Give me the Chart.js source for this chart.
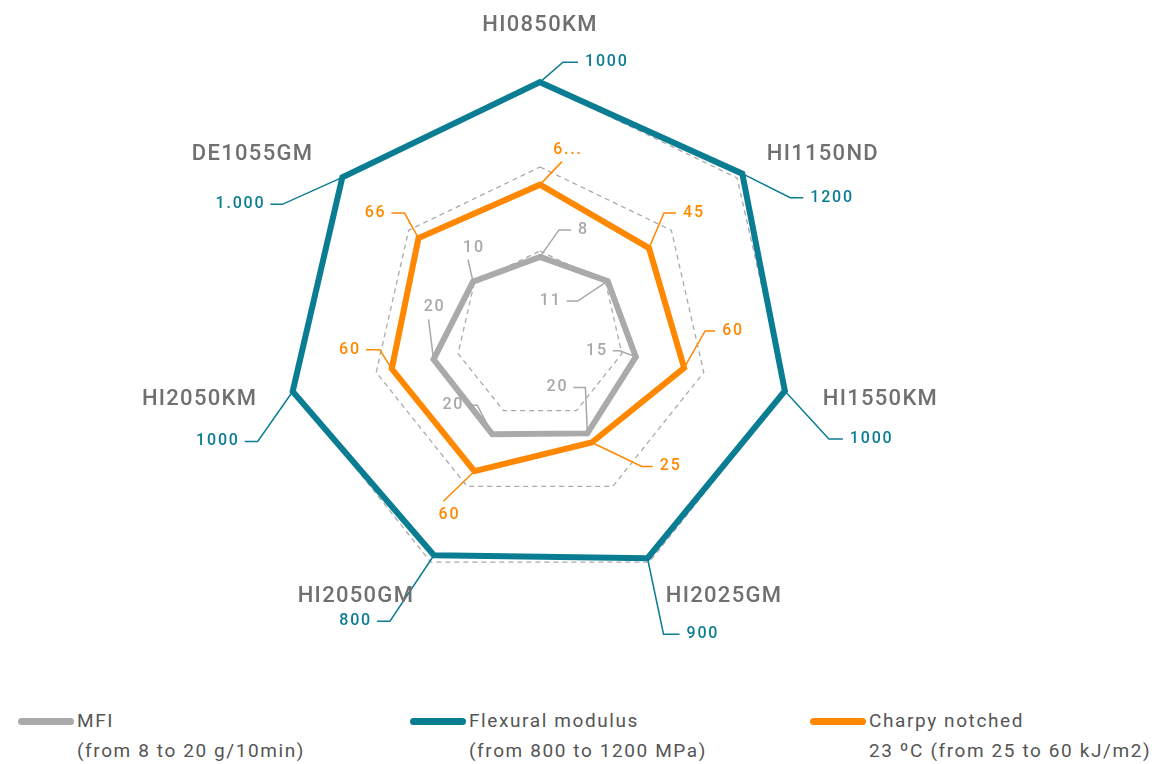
<!DOCTYPE html>
<html>
<head>
<meta charset="utf-8">
<script src="https://cdn.jsdelivr.net/npm/chart.js@4.4.1/dist/chart.umd.min.js"></script>
<style>
  body { margin: 0; background: #fff; font-family: Roboto, sans-serif; }
  #wrap { position: relative; width: 1155px; height: 764px; }
  #legend { position: absolute; left: 0; top: 706px; width: 1155px; height: 58px; }
  .item { position: absolute; top: 0; color: #555; font-size: 19px; line-height: 30px; letter-spacing: 1.6px; }
  .item .swatch { position: absolute; left: 0; top: 12px; width: 56px; height: 7px; border-radius: 4px; }
  .item .txt { position: absolute; left: 59px; top: 0; white-space: nowrap; }
</style>
</head>
<body>
<div id="wrap">
  <canvas id="chart" width="1155" height="690"></canvas>
  <div id="legend"></div>
</div>
<script>
// grades on the radar axes
const grades = ['HI0850KM', 'HI1150ND', 'HI1550KM', 'HI2025GM', 'HI2050GM', 'HI2050KM', 'DE1055GM'];

// plotted positions (normalised, 0..3) and the printed values
const mfiPos = [0.93, 1.03, 1.17, 1.30, 1.31, 1.30, 1.02];
const mfiLabels = ['8', '11', '15', '20', '20', '20', '10'];

const flexPos = [3.01, 3.08, 2.99, 2.95, 2.91, 3.02, 3.01];
const flexLabels = ['1000', '1200', '1000', '900', '800', '1000', '1.000'];

const charpyPos = [1.79, 1.66, 1.76, 1.42, 1.80, 1.81, 1.85];
const charpyLabels = ['6...', '45', '60', '25', '60', '60', '66'];

const seriesNames = ['MFI', 'Flexural modulus', 'Charpy notched'];
const seriesRanges = ['(from 8 to 20 g/10min)', '(from 800 to 1200 MPa)', '23 ºC (from 25 to 60 kJ/m2)'];

const GRAY = '#aaaaaa', TEAL = '#0b7d93', ORANGE = '#ff8800';

// leader line offsets from each point: [dx, dy, horizontal tail]
const mfiLeaders = [[19, -27, 12], [-30, 20, -11], [-16, -6, -7], [-2, -46, -12], [-15, -29, -8], [-5, -40, 0], [-5, -22, 0]];
const flexLeaders = [[23, -20, 15], [48, 24, 13], [44, 48, 14], [16, 76, 16], [-44, 66, -13], [-35, 50, -13], [-60, 27, -12]];
const charpyLeaders = [[22, -23, 0], [15, -35, 12], [21, -37, 10], [50, 24, 11], [-31, 30, 0], [-12, -19, -14], [-14, -25, -13]];

const leaderPlugin = {
  id: 'leaders',
  afterDatasetsDraw(chart) {
    const ctx = chart.ctx;
    chart.data.datasets.forEach((ds, di) => {
      const meta = chart.getDatasetMeta(di);
      meta.data.forEach((pt, i) => {
        const [dx, dy, h] = ds.leaders[i];
        const x1 = pt.x + dx, y1 = pt.y + dy;
        ctx.save();
        ctx.strokeStyle = ds.labelColor;
        ctx.lineWidth = 1.5;
        ctx.beginPath();
        ctx.moveTo(pt.x, pt.y);
        ctx.lineTo(x1, y1);
        if (h !== 0) ctx.lineTo(x1 + h, y1);
        ctx.stroke();
        ctx.fillStyle = ds.labelColor;
        ctx.font = '500 16px Roboto';
        ctx.letterSpacing = '1.8px';
        if (h > 0) {
          ctx.textAlign = 'left'; ctx.textBaseline = 'middle';
          ctx.fillText(ds.valueLabels[i], x1 + h + 7, y1);
        } else if (h < 0) {
          ctx.textAlign = 'right'; ctx.textBaseline = 'middle';
          ctx.fillText(ds.valueLabels[i], x1 + h - 5, y1);
        } else {
          ctx.textAlign = 'center';
          ctx.textBaseline = dy < 0 ? 'bottom' : 'top';
          ctx.fillText(ds.valueLabels[i], x1 + 6, dy < 0 ? y1 - 4 : y1 + 6);
        }
        ctx.restore();
      });
    });
  }
};

const gradeLabelPlugin = {
  id: 'gradeLabels',
  afterDraw(chart) {
    const scale = chart.scales.r;
    const ctx = chart.ctx;
    ctx.save();
    ctx.fillStyle = '#707070';
    ctx.font = '500 22px Roboto';
    ctx.letterSpacing = '1.3px';
    ctx.textBaseline = 'middle';
    grades.forEach((g, i) => {
      const extra = i === 0 ? 58 : 38;
      const p = scale.getPointPosition(i, scale.drawingArea + extra);
      if (Math.abs(p.x - scale.xCenter) < 2) ctx.textAlign = 'center';
      else ctx.textAlign = p.x > scale.xCenter ? 'left' : 'right';
      ctx.fillText(g, p.x, p.y);
    });
    ctx.restore();
  }
};

function makeSet(name, pos, labels, leaders, color, labelColor) {
  return {
    label: name,
    data: pos,
    valueLabels: labels,
    leaders: leaders,
    labelColor: labelColor,
    borderColor: color,
    backgroundColor: 'rgba(0,0,0,0)',
    borderWidth: 6,
    borderJoinStyle: 'miter',
    fill: false,
    pointRadius: 0,
    pointHoverRadius: 0
  };
}

new Chart(document.getElementById('chart').getContext('2d'), {
  type: 'radar',
  data: {
    labels: grades,
    datasets: [
      makeSet(seriesNames[0], mfiPos, mfiLabels, mfiLeaders, GRAY, '#a8a8a8'),
      makeSet(seriesNames[1], flexPos, flexLabels, flexLeaders, TEAL, TEAL),
      makeSet(seriesNames[2], charpyPos, charpyLabels, charpyLeaders, ORANGE, ORANGE)
    ]
  },
  options: {
    responsive: false,
    animation: false,
    layout: { padding: { top: 83, bottom: 103, left: 0, right: 75 } },
    plugins: {
      legend: { display: false },
      tooltip: { enabled: false }
    },
    scales: {
      r: {
        min: 0,
        max: 3,
        ticks: { display: false, stepSize: 1 },
        pointLabels: { display: false },
        angleLines: { display: false },
        grid: { color: '#aaaaaa', lineWidth: 1.3 },
        border: { dash: [5, 4] }
      }
    }
  },
  plugins: [leaderPlugin, gradeLabelPlugin]
});

// legend below the chart
const legendColors = [GRAY, TEAL, ORANGE];
const legendLeft = [18, 410, 810];
const legend = document.getElementById('legend');
seriesNames.forEach((name, i) => {
  const item = document.createElement('div');
  item.className = 'item';
  item.style.left = legendLeft[i] + 'px';
  item.innerHTML = '<div class="swatch" style="background:' + legendColors[i] + '"></div>' +
    '<div class="txt">' + name + '<br>' + seriesRanges[i] + '</div>';
  legend.appendChild(item);
});
</script>
</body>
</html>
